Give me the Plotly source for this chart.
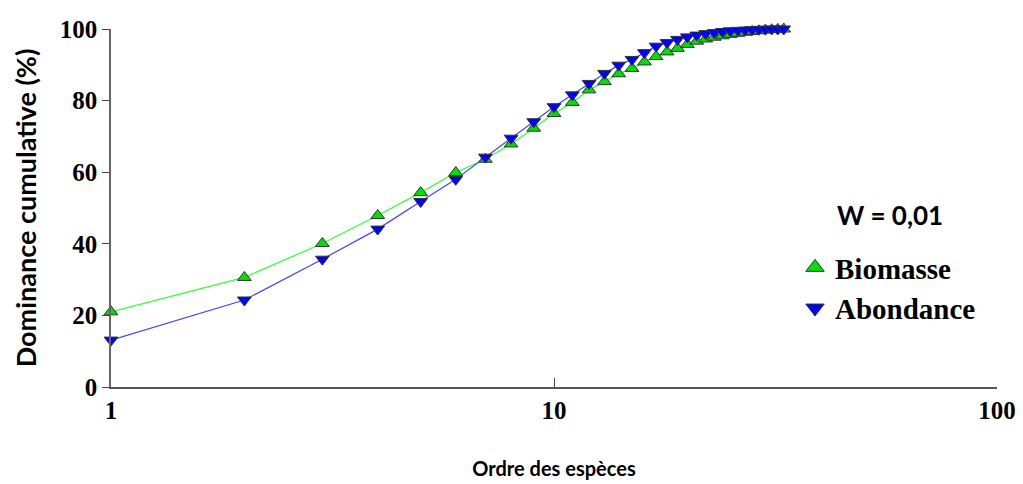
import plotly.graph_objects as go

ranks = list(range(1, 34))
biomasse = [21.0, 30.6, 40.1, 47.9, 54.3, 59.9, 63.6, 67.9, 72.3, 76.4, 79.5,
            83.0, 85.3, 87.5, 89.0, 90.8, 92.3, 93.6, 94.6, 95.7, 96.6, 97.2,
            97.7, 98.1, 98.5, 98.8, 99.1, 99.3, 99.5, 99.7, 99.8, 99.9, 100.0]
abondance = [13.1, 24.3, 35.7, 44.1, 51.8, 58.0, 64.2, 69.5, 74.1, 78.3, 81.6,
             84.8, 87.6, 89.9, 91.5, 93.4, 95.2, 96.2, 97.1, 97.8, 98.3, 98.7,
             99.0, 99.3, 99.5, 99.6, 99.7, 99.8, 99.9, 99.95, 100.0, 100.0, 100.0]
x_ticks = [1, 10, 100]
y_ticks = [0, 20, 40, 60, 80, 100]

serif = "Liberation Serif"
sans = "Lato"

green_line, green_fill = "#33ff33", "#00e000"
blue_line, blue_fill = "#4444ff", "#0000ff"
edge = "#333333"

fig = go.Figure()
fig.add_trace(go.Scatter(
    x=ranks, y=biomasse, name="Biomasse", mode="lines+markers", showlegend=False,
    line=dict(color=green_line, width=1.2),
    marker=dict(symbol="triangle-up", size=12, color=green_fill,
                line=dict(color=edge, width=1)),
    cliponaxis=False))
fig.add_trace(go.Scatter(
    x=ranks, y=abondance, name="Abondance", mode="lines+markers", showlegend=False,
    line=dict(color=blue_line, width=1.2),
    marker=dict(symbol="triangle-down", size=12, color=blue_fill,
                line=dict(color=edge, width=1)),
    cliponaxis=False))
# legend entries (markers only, as in the reference)
fig.add_trace(go.Scatter(
    x=[None], y=[None], name="Biomasse", mode="markers",
    marker=dict(symbol="triangle-up", size=17, color=green_fill,
                line=dict(color=edge, width=1))))
fig.add_trace(go.Scatter(
    x=[None], y=[None], name="Abondance", mode="markers",
    marker=dict(symbol="triangle-down", size=17, color=blue_fill,
                line=dict(color=edge, width=1))))

# page body has an 8px margin; plot area targets x 111..997, y 29..387 on screen
fig.update_layout(
    width=1023, height=484,
    margin=dict(l=103, r=34, t=21, b=105, autoexpand=False),
    paper_bgcolor="white", plot_bgcolor="white",
    showlegend=True,
    legend=dict(
        x=0.772, y=0.405, xanchor="left", yanchor="top",
        bgcolor="rgba(0,0,0,0)",
        font=dict(family=serif, size=29, color="black", weight="bold"),
        itemwidth=30, tracegroupgap=0,
    ),
    annotations=[dict(
        text="W = 0,01", xref="paper", yref="paper",
        x=(835 - 111) / 886, y=(387 - 215) / 358, xanchor="left", yanchor="middle",
        showarrow=False,
        font=dict(family=sans, size=26, color="black", weight="bold"))],
    xaxis=dict(
        type="log", range=[0, 2], automargin=False,
        tickvals=x_ticks, ticktext=[str(v) for v in x_ticks],
        ticks="inside", ticklen=9, tickcolor="#444444", tickwidth=1,
        showline=True, linecolor="#555555", linewidth=1.5,
        showgrid=False, zeroline=False,
        tickfont=dict(family=serif, size=25, color="black", weight="bold"),
        title=dict(text="Ordre des espèces", standoff=39,
                   font=dict(family=sans, size=20, color="black", weight="bold")),
    ),
    yaxis=dict(
        range=[0, 100], automargin=False,
        tickvals=y_ticks,
        ticks="outside", ticklen=7, tickcolor="#444444", tickwidth=1,
        showline=True, linecolor="#666666", linewidth=1.5,
        showgrid=False, zeroline=False,
        tickfont=dict(family=serif, size=25, color="black", weight="bold"),
        title=dict(text="Dominance cumulative (%)", standoff=15,
                   font=dict(family=sans, size=27, color="black", weight="bold")),
    ),
)

fig.write_html("out.html")
